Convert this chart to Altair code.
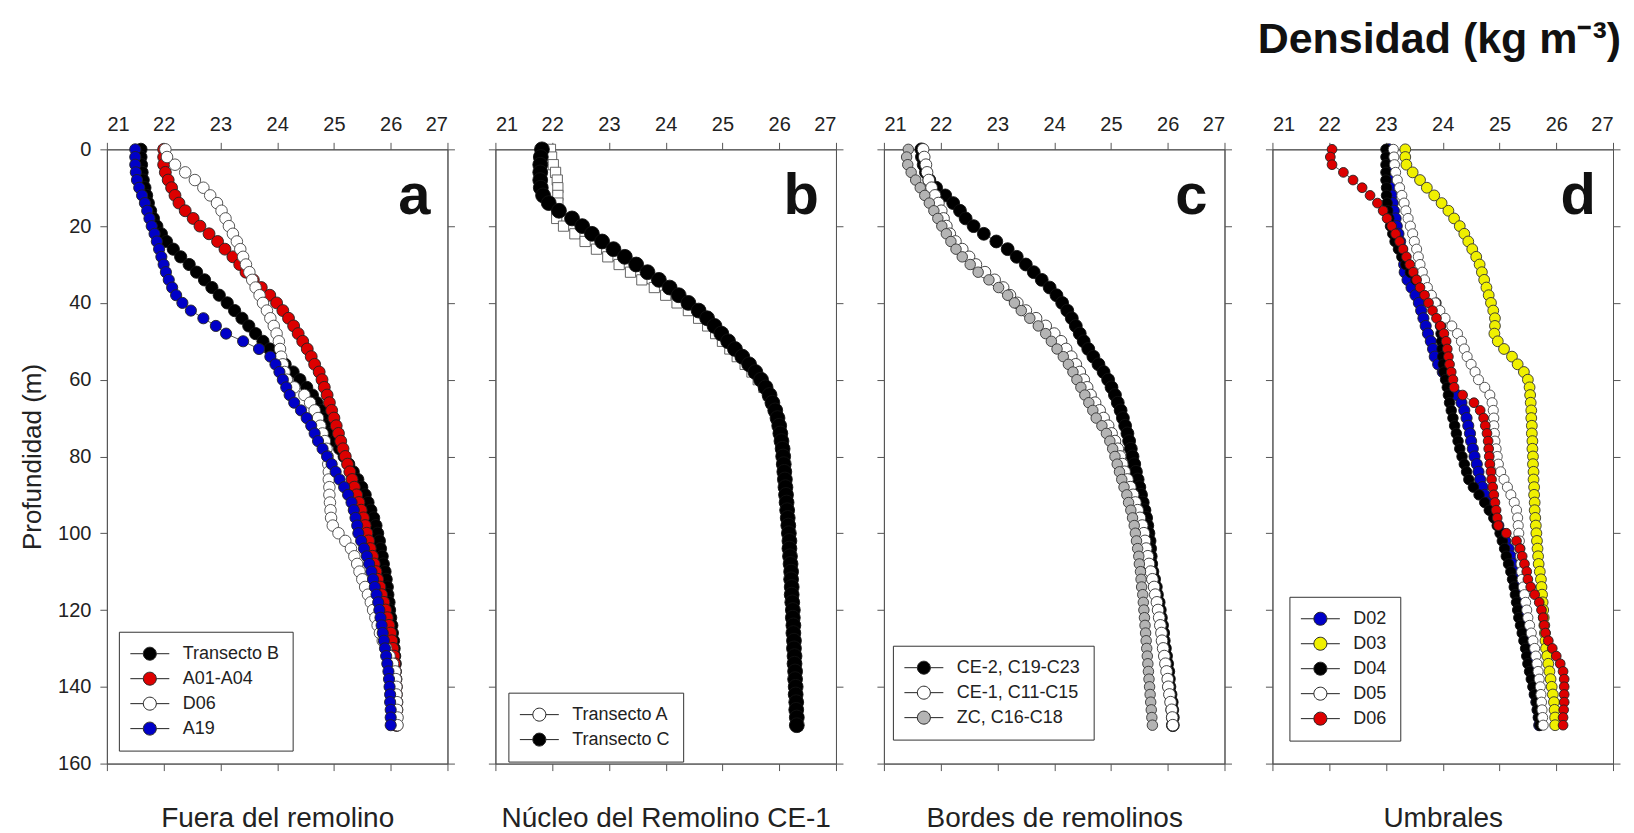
import altair as alt
import pandas as pd

FONT = "Liberation Sans"

DEPTH = list(range(0, 152, 2))
X_TICKS = [21, 22, 23, 24, 25, 26, 27]
Y_TICKS = [0, 20, 40, 60, 80, 100, 120, 140, 160]

# ---------------- panel a : Fuera del remolino ----------------
A_NAMES = ["Transecto B", "A01-A04", "D06", "A19"]
A_FILL = ["#000000", "#DD0000", "#FFFFFF", "#0000C8"]
A_TRANSB = [21.60, 21.60, 21.61, 21.62, 21.64, 21.67, 21.70, 21.73, 21.77, 21.82,
            21.88, 21.96, 22.05, 22.17, 22.30, 22.45, 22.58, 22.72, 22.85, 22.98,
            23.12, 23.25, 23.38, 23.50, 23.62, 23.75, 23.87, 24.00, 24.14, 24.28,
            24.40, 24.52, 24.62, 24.70, 24.77, 24.83, 24.89, 24.95, 25.02, 25.10,
            25.18, 25.26, 25.34, 25.42, 25.49, 25.55, 25.60, 25.65, 25.70, 25.74,
            25.77, 25.80, 25.82, 25.85, 25.87, 25.90, 25.92, 25.94, 25.95, 25.97,
            25.98, 26.00, 26.02, 26.03, 26.05, 26.06, 26.07, 26.08, 26.08, 26.09,
            26.09, 26.09, 26.10, 26.10, 26.10, 26.10]
A_A01 = [22.00, 22.00, 22.00, 22.03, 22.08, 22.14, 22.20, 22.27, 22.38, 22.52,
         22.64, 22.80, 22.95, 23.08, 23.22, 23.34, 23.45, 23.58, 23.72, 23.87,
         23.99, 24.10, 24.20, 24.29, 24.37, 24.45, 24.53, 24.60, 24.66, 24.74,
         24.79, 24.83, 24.88, 24.92, 24.96, 25.00, 25.04, 25.08, 25.12, 25.16,
         25.20, 25.24, 25.28, 25.32, 25.36, 25.40, 25.44, 25.48, 25.52, 25.55,
         25.58, 25.61, 25.64, 25.68, 25.71, 25.74, 25.77, 25.81, 25.84, 25.88,
         25.91, 25.94, 25.97, 26.00, 26.02, 26.04, 26.06, 26.07, 26.08, 26.09,
         26.10, 26.10, 26.11, 26.11, 26.11, 26.11]
A_D06 = [22.03, 22.06, 22.20, 22.38, 22.55, 22.70, 22.82, 22.94, 23.02, 23.09,
         23.15, 23.22, 23.29, 23.35, 23.40, 23.45, 23.51, 23.56, 23.62, 23.69,
         23.75, 23.82, 23.88, 23.94, 23.99, 24.03, 24.05, 24.07, 24.10, 24.13,
         24.17, 24.30, 24.48, 24.58, 24.66, 24.72, 24.76, 24.80, 24.84, 24.87,
         24.89, 24.90, 24.91, 24.91, 24.92, 24.92, 24.93, 24.94, 24.95, 24.98,
         25.08, 25.20, 25.30, 25.36, 25.41, 25.45, 25.50, 25.55, 25.60, 25.65,
         25.69, 25.73, 25.77, 25.81, 25.86, 25.92, 25.98, 26.04, 26.08, 26.09,
         26.10, 26.10, 26.11, 26.11, 26.12, 26.12]
A_A19 = [21.50, 21.50, 21.50, 21.51, 21.53, 21.57, 21.62, 21.67, 21.71, 21.75,
         21.79, 21.84, 21.88, 21.92, 21.96, 22.00, 22.04, 22.09, 22.15, 22.22,
         22.33, 22.48, 22.70, 22.92, 23.10, 23.40, 23.68, 23.88, 23.97, 24.04,
         24.10, 24.16, 24.22, 24.30, 24.42, 24.52, 24.60, 24.66, 24.72, 24.80,
         24.88, 24.96, 25.03, 25.10, 25.18, 25.25, 25.31, 25.35, 25.38, 25.41,
         25.43, 25.48, 25.53, 25.58, 25.62, 25.66, 25.69, 25.72, 25.75, 25.78,
         25.80, 25.82, 25.84, 25.86, 25.88, 25.90, 25.92, 25.94, 25.96, 25.97,
         25.98, 25.99, 25.99, 26.00, 26.00, 26.00]

# ---------------- panel b : Núcleo del Remolino CE-1 ----------------
B_NAMES = ["Transecto A", "Transecto C"]
B_FILL = ["#FFFFFF", "#000000"]
B_TRANSA = [21.97, 21.99, 22.02, 22.06, 22.09, 22.10, 22.10, 22.10, 22.08, 22.08,
            22.20, 22.40, 22.58, 22.78, 22.98, 23.18, 23.38, 23.58, 23.80, 24.00,
            24.20, 24.40, 24.58, 24.74, 24.88, 25.00, 25.13, 25.26, 25.40, 25.52,
            25.63, 25.73, 25.81, 25.87, 25.92, 25.96, 25.99, 26.02, 26.04, 26.06,
            26.08, 26.09, 26.10, 26.11, 26.12, 26.13, 26.14, 26.15, 26.16, 26.17,
            26.18, 26.19, 26.19, 26.20, 26.21, 26.22, 26.22, 26.23, 26.23, 26.24,
            26.25, 26.25, 26.26, 26.26, 26.27, 26.27, 26.28, 26.28, 26.29, 26.29,
            26.30, 26.30, 26.31, 26.31, 26.32, 26.32]
B_TRANSC = [21.82, 21.80, 21.79, 21.79, 21.79, 21.80, 21.84, 21.94, 22.12, 22.35,
            22.53, 22.70, 22.88, 23.08, 23.28, 23.48, 23.68, 23.88, 24.07, 24.23,
            24.40, 24.58, 24.73, 24.86, 24.98, 25.10, 25.22, 25.35, 25.47, 25.58,
            25.68, 25.76, 25.83, 25.88, 25.93, 25.97, 26.00, 26.02, 26.04, 26.06,
            26.07, 26.08, 26.09, 26.10, 26.11, 26.12, 26.13, 26.14, 26.15, 26.16,
            26.17, 26.18, 26.18, 26.19, 26.20, 26.21, 26.21, 26.22, 26.22, 26.23,
            26.24, 26.24, 26.25, 26.25, 26.26, 26.26, 26.27, 26.27, 26.28, 26.28,
            26.29, 26.29, 26.30, 26.30, 26.31, 26.31]

# ---------------- panel c : Bordes de remolinos ----------------
C_NAMES = ["CE-2, C19-C23", "CE-1, C11-C15", "ZC, C16-C18"]
C_FILL = ["#000000", "#FFFFFF", "#B4B4B4"]
C_CE2 = [21.66, 21.67, 21.70, 21.74, 21.80, 21.92, 22.08, 22.22, 22.34, 22.44,
         22.58, 22.76, 22.98, 23.18, 23.34, 23.50, 23.64, 23.78, 23.92, 24.04,
         24.14, 24.23, 24.31, 24.38, 24.45, 24.52, 24.60, 24.69, 24.78, 24.87,
         24.95, 25.01, 25.07, 25.12, 25.17, 25.21, 25.25, 25.29, 25.32, 25.35,
         25.38, 25.41, 25.44, 25.47, 25.50, 25.53, 25.56, 25.59, 25.62, 25.64,
         25.66, 25.68, 25.69, 25.70, 25.71, 25.73, 25.76, 25.79, 25.81, 25.84,
         25.86, 25.88, 25.90, 25.92, 25.93, 25.95, 25.97, 25.99, 26.01, 26.02,
         26.03, 26.05, 26.07, 26.08, 26.09, 26.09]
C_CE1 = [21.69, 21.71, 21.74, 21.76, 21.79, 21.84, 21.90, 21.96, 22.01, 22.05,
         22.10, 22.16, 22.26, 22.38, 22.50, 22.62, 22.78, 22.95, 23.10, 23.22,
         23.35, 23.50, 23.68, 23.85, 24.00, 24.12, 24.21, 24.30, 24.38, 24.45,
         24.52, 24.58, 24.64, 24.72, 24.80, 24.87, 24.95, 25.01, 25.07, 25.12,
         25.16, 25.20, 25.24, 25.29, 25.34, 25.39, 25.43, 25.47, 25.51, 25.55,
         25.58, 25.60, 25.62, 25.65, 25.67, 25.70, 25.73, 25.76, 25.78, 25.81,
         25.83, 25.85, 25.87, 25.89, 25.90, 25.92, 25.94, 25.96, 25.98, 26.00,
         26.01, 26.03, 26.05, 26.07, 26.08, 26.09]
C_ZC = [21.43, 21.40, 21.42, 21.48, 21.56, 21.64, 21.72, 21.80, 21.88, 21.95,
        22.02, 22.10, 22.18, 22.27, 22.38, 22.52, 22.66, 22.85, 23.02, 23.18,
        23.30, 23.42, 23.57, 23.72, 23.85, 23.95, 24.05, 24.16, 24.25, 24.33,
        24.40, 24.47, 24.54, 24.61, 24.68, 24.74, 24.84, 24.92, 24.98, 25.03,
        25.07, 25.11, 25.15, 25.19, 25.23, 25.28, 25.31, 25.35, 25.38, 25.41,
        25.43, 25.45, 25.47, 25.49, 25.50, 25.52, 25.53, 25.54, 25.56, 25.57,
        25.58, 25.59, 25.60, 25.61, 25.62, 25.63, 25.64, 25.65, 25.66, 25.67,
        25.68, 25.69, 25.70, 25.71, 25.72, 25.73]

# ---------------- panel d : Umbrales ----------------
D_NAMES = ["D02", "D03", "D04", "D05", "D06"]
D_FILL = ["#0000C8", "#F0F000", "#000000", "#FFFFFF", "#DD0000"]
D_D02 = [23.05, 23.05, 23.05, 23.06, 23.07, 23.08, 23.10, 23.12, 23.14, 23.17,
         23.19, 23.22, 23.25, 23.28, 23.30, 23.32, 23.33, 23.38, 23.45, 23.52,
         23.58, 23.62, 23.66, 23.70, 23.74, 23.79, 23.83, 23.86, 23.92, 24.00,
         24.08, 24.15, 24.25, 24.33, 24.38, 24.42, 24.45, 24.48, 24.50, 24.53,
         24.56, 24.60, 24.63, 24.66, 24.70, 24.74, 24.80, 24.86, 24.92, 24.98,
         25.04, 25.10, 25.16, 25.20, 25.23, 25.26, 25.28, 25.30, 25.32, 25.34,
         25.36, 25.38, 25.40, 25.42, 25.45, 25.48, 25.51, 25.53, 25.56, 25.58,
         25.60, 25.62, 25.65, 25.67, 25.69, 25.70]
D_D03 = [23.34, 23.34, 23.36, 23.47, 23.60, 23.72, 23.85, 23.98, 24.10, 24.20,
         24.30, 24.38, 24.45, 24.52, 24.59, 24.65, 24.69, 24.73, 24.77, 24.81,
         24.85, 24.89, 24.92, 24.92, 24.91, 24.97, 25.08, 25.22, 25.32, 25.43,
         25.50, 25.53, 25.54, 25.55, 25.56, 25.56, 25.57, 25.57, 25.58, 25.58,
         25.59, 25.59, 25.60, 25.60, 25.61, 25.61, 25.62, 25.62, 25.63, 25.64,
         25.65, 25.66, 25.67, 25.68, 25.69, 25.71, 25.73, 25.74, 25.75, 25.76,
         25.77, 25.78, 25.79, 25.80, 25.81, 25.82, 25.84, 25.86, 25.88, 25.90,
         25.92, 25.94, 25.96, 25.97, 25.98, 25.98]
D_D04 = [23.00, 23.00, 23.00, 23.00, 23.00, 23.01, 23.01, 23.02, 23.03, 23.05,
         23.08, 23.12, 23.16, 23.22, 23.28, 23.35, 23.43, 23.53, 23.65, 23.78,
         23.88, 23.93, 23.95, 23.96, 23.97, 23.98, 23.99, 24.00, 24.01, 24.02,
         24.05, 24.08, 24.10, 24.12, 24.15, 24.18, 24.21, 24.24, 24.27, 24.30,
         24.34, 24.38, 24.42, 24.46, 24.54, 24.64, 24.74, 24.82, 24.90, 24.96,
         25.01, 25.05, 25.09, 25.12, 25.16, 25.20, 25.23, 25.26, 25.28, 25.30,
         25.32, 25.34, 25.37, 25.40, 25.43, 25.46, 25.48, 25.50, 25.53, 25.56,
         25.59, 25.62, 25.65, 25.67, 25.69, 25.71]
D_D05 = [23.13, 23.14, 23.15, 23.17, 23.20, 23.24, 23.28, 23.32, 23.35, 23.39,
         23.43, 23.47, 23.50, 23.54, 23.57, 23.60, 23.64, 23.68, 23.73, 23.80,
         23.87, 23.95, 24.04, 24.16, 24.26, 24.33, 24.38, 24.43, 24.50, 24.57,
         24.63, 24.74, 24.83, 24.87, 24.89, 24.90, 24.90, 24.91, 24.92, 24.94,
         24.96, 24.98, 25.02, 25.08, 25.14, 25.20, 25.26, 25.30, 25.32, 25.33,
         25.34, 25.35, 25.36, 25.37, 25.38, 25.39, 25.40, 25.42, 25.44, 25.46,
         25.48, 25.50, 25.53, 25.56, 25.59, 25.62, 25.64, 25.66, 25.68, 25.70,
         25.72, 25.73, 25.74, 25.75, 25.76, 25.77]
D_D06 = [22.05, 22.02, 22.05, 22.25, 22.42, 22.58, 22.72, 22.85, 22.95, 23.02,
         23.10, 23.17, 23.24, 23.30, 23.36, 23.42, 23.48, 23.54, 23.60, 23.68,
         23.75, 23.82, 23.89, 23.96, 24.02, 24.06, 24.08, 24.10, 24.12, 24.15,
         24.18, 24.20, 24.35, 24.55, 24.66, 24.72, 24.75, 24.78, 24.80, 24.81,
         24.82, 24.83, 24.85, 24.86, 24.88, 24.90, 24.92, 24.94, 24.96, 24.98,
         25.12, 25.30, 25.36, 25.40, 25.44, 25.48, 25.50, 25.55, 25.62, 25.70,
         25.74, 25.77, 25.79, 25.81, 25.86, 25.93, 26.00, 26.07, 26.12, 26.14,
         26.14, 26.14, 26.14, 26.13, 26.12, 26.12]

# legend symbol: short line with a marker in the middle
SYM_CIRCLE = "M-3,0H-1M1,0H3M-1,0A1,1 0 1,1 1,0A1,1 0 1,1 -1,0Z"

XSCALE = alt.Scale(domain=[21, 27], nice=False, zero=False)
YSCALE = alt.Scale(domain=[0, 160], reverse=True, nice=False, zero=False)

PW, PH = 341, 615


def panel(names, series, fills, shapes, sizes, strokes, title, letter, lx, ly,
          first=False):
    rows = []
    for k, (name, vals) in enumerate(zip(names, series)):
        for d, v in zip(DEPTH, vals):
            rows.append({"serie": name, "dens": v, "prof": d, "k": k})
    df = pd.DataFrame(rows)
    idx = list(range(len(names)))

    top_axis = alt.Axis(orient="top", values=X_TICKS, format="d", labelFontSize=20,
                        labelPadding=8, tickSize=7, title=None, grid=False)
    if first:
        left_axis = alt.Axis(orient="left", values=Y_TICKS, labelFontSize=20,
                             labelPadding=9, tickSize=7, title="Profundidad (m)",
                             titleFontSize=26, titleFontWeight="normal",
                             titlePadding=12, grid=False)
    else:
        left_axis = alt.Axis(orient="left", values=Y_TICKS, labels=False,
                             tickSize=7, title=None, grid=False)
    bottom_axis = alt.Axis(orient="bottom", values=X_TICKS, labels=False, tickSize=7,
                           title=title, titleFontSize=28, titleFontWeight="normal",
                           titlePadding=33, grid=False)
    right_axis = alt.Axis(orient="right", values=Y_TICKS, labels=False, tickSize=7,
                          title=None, grid=False)

    legend = alt.Legend(title=None, orient="none", legendX=lx, legendY=ly,
                        symbolType=SYM_CIRCLE, symbolSize=169,
                        symbolStrokeColor="#222", symbolStrokeWidth=1,
                        symbolOffset=9, labelOffset=24, labelFont=FONT,
                        labelFontSize=18, labelColor="#222", strokeColor="#333",
                        fillColor="white", padding=13, rowPadding=7, labelLimit=300)

    base = alt.Chart(df)
    lines = base.mark_line(color="#555", strokeWidth=1).encode(
        x=alt.X("dens:Q", scale=XSCALE, axis=None),
        y=alt.Y("prof:Q", scale=YSCALE, axis=None),
        detail="serie:N",
        order="prof:Q",
    )
    pts = base.mark_point(filled=True, opacity=1, strokeWidth=0.9).encode(
        x=alt.X("dens:Q", scale=XSCALE, axis=top_axis),
        y=alt.Y("prof:Q", scale=YSCALE, axis=left_axis),
        fill=alt.Fill("serie:N", scale=alt.Scale(domain=names, range=fills),
                      legend=legend, sort=names),
        stroke=alt.Stroke("k:N", scale=alt.Scale(domain=idx, range=strokes),
                          legend=None),
        shape=alt.Shape("k:N", scale=alt.Scale(domain=idx, range=shapes),
                        legend=None),
        size=alt.Size("k:N", scale=alt.Scale(domain=idx, range=sizes),
                      legend=None),
        order=alt.Order("k:Q"),
    )
    lab = alt.Chart(alt.Data(values=[{"id": 1}])).mark_text(
        text=letter, font=FONT, fontSize=58, fontWeight="bold", color="#111",
        align="right", baseline="alphabetic",
    ).encode(
        x=alt.XDatum(26.7, type="quantitative", scale=XSCALE, axis=bottom_axis),
        y=alt.YDatum(16.8, type="quantitative", scale=YSCALE, axis=right_axis),
    )
    return alt.layer(lines, pts, lab).resolve_axis(
        x="independent", y="independent"
    ).properties(width=PW, height=PH)


pa = panel(A_NAMES, [A_TRANSB, A_A01, A_D06, A_A19], A_FILL,
           ["circle"] * 4, [150, 125, 120, 130], ["#111", "#222", "#444", "#222"],
           "Fuera del remolino", "a", 12, 483, first=True)

pb = panel(B_NAMES, [B_TRANSA, B_TRANSC], B_FILL, ["square", "circle"],
           [105, 220], ["#555", "#111"], "Núcleo del Remolino CE-1", "b", 13, 544)

pc = panel(C_NAMES, [C_CE2, C_CE1, C_ZC], C_FILL, ["circle"] * 3,
           [165, 110, 110], ["#111", "#333", "#333"], "Bordes de remolinos", "c", 9, 497)

pd_ = panel(D_NAMES, [D_D02, D_D03, D_D04, D_D05, D_D06], D_FILL, ["circle"] * 5,
            [125, 95, 145, 115, 130], ["#222", "#333", "#111", "#444", "#222"],
            "Umbrales", "d", 17, 448)

chart = alt.hconcat(
    pa, pb, pc, pd_, spacing=48, bounds="flush",
    title=alt.TitleParams("Densidad (kg m⁻³)", anchor="end", fontSize=43,
                          fontWeight="bold", font=FONT, color="#111", offset=52),
).resolve_scale(
    fill="independent", stroke="independent", shape="independent", size="independent"
).configure_view(
    stroke="#555", strokeWidth=1
).configure_axis(
    domainColor="#555", tickColor="#555", labelFont=FONT, titleFont=FONT,
    labelColor="#222", titleColor="#222", domainWidth=1, tickWidth=1
).properties(
    padding={"left": 11, "top": 10, "right": 5, "bottom": 5},
    background="white",
)

chart.save("out.html", embed_options={"renderer": "svg", "actions": False})
